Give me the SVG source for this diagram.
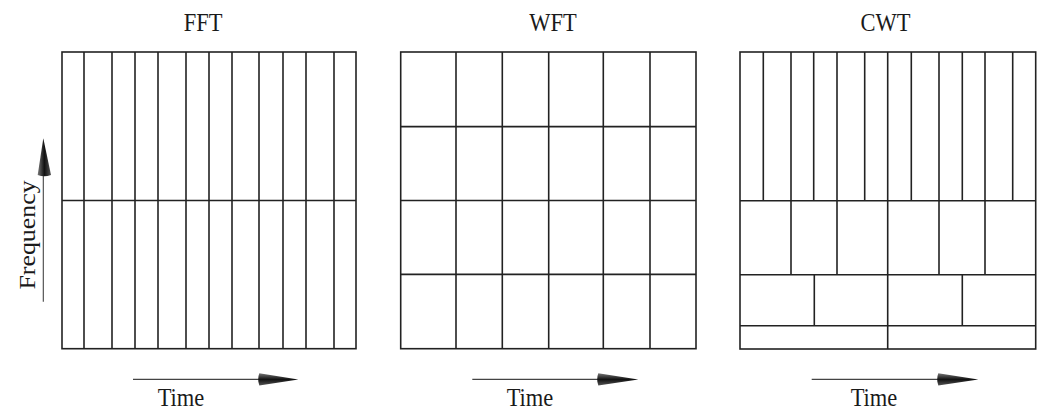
<svg xmlns="http://www.w3.org/2000/svg" width="1041" height="409" viewBox="0 0 1041 409">
  <style>
    .grid { fill: none; stroke: #222; stroke-width: 1.6; }
    .shaft { stroke: #444; stroke-width: 1.1; fill: none; }
    .label { font-family: "Liberation Serif", "Times New Roman", serif; font-size: 22.5px; fill: #1a1a1a; text-anchor: middle; }
  </style>
  <defs>
    <linearGradient id="headH" x1="0" y1="0" x2="0" y2="1">
      <stop offset="0" stop-color="#777"/>
      <stop offset="0.5" stop-color="#111"/>
      <stop offset="1" stop-color="#555"/>
    </linearGradient>
    <linearGradient id="headV" x1="0" y1="0" x2="1" y2="0">
      <stop offset="0" stop-color="#777"/>
      <stop offset="0.5" stop-color="#111"/>
      <stop offset="1" stop-color="#555"/>
    </linearGradient>
  </defs>

  <rect width="1041" height="409" fill="#fff"/>

  <!-- FFT: constant narrow time bins -->
  <g id="fft">
    <text class="label" transform="translate(203,30.7) scale(1,1.15)">FFT</text>
    <rect class="grid" x="62" y="52" width="294" height="296.7"/>
    <path class="grid" d="M84 52V348.7M112 52V348.7M135 52V348.7M158 52V348.7M186 52V348.7M209 52V348.7M232 52V348.7M259 52V348.7M283 52V348.7M306 52V348.7M334 52V348.7M62 200.5H356"/>
  </g>

  <!-- WFT: fixed-size tiles -->
  <g id="wft">
    <text class="label" transform="translate(553,30.7) scale(1,1.15)">WFT</text>
    <rect class="grid" x="400.7" y="52" width="295.3" height="296.7"/>
    <path class="grid" d="M456 52V348.7M502.3 52V348.7M548.7 52V348.7M603.3 52V348.7M650 52V348.7M400.7 126.6H696M400.7 200.5H696M400.7 274.4H696"/>
  </g>

  <!-- CWT: dyadic tiling -->
  <g id="cwt">
    <text class="label" transform="translate(885.5,30.7) scale(1,1.15)">CWT</text>
    <rect class="grid" x="740" y="52" width="295.7" height="297"/>
    <path class="grid" d="M763.3 52V200.7M791 52V274.7M813.7 52V200.7M837 52V274.7M864.7 52V200.7M887.7 52V349M911.3 52V200.7M939 52V274.7M962.3 52V200.7M985 52V274.7M1012.7 52V200.7M814.3 274.7V325.7M962.3 274.7V325.7M740 200.7H1035.7M740 274.7H1035.7M740 325.7H1035.7"/>
  </g>

  <!-- axis arrows -->
  <g id="axes">
    <line class="shaft" x1="43.3" y1="301.7" x2="43.3" y2="172"/>
    <path d="M37.7 175 Q44.3 177.5 51 175 L43.3 138.3 Z" fill="url(#headV)"/>
    <text class="label" transform="translate(35,235) rotate(-90) scale(1.15,1)" fill="#2b2416">Frequency</text>

    <line class="shaft" x1="133" y1="379.4" x2="262" y2="379.4"/>
    <path d="M259.3 373.3 Q257 379.4 259.3 385.5 L298.3 379.4 Z" fill="url(#headH)"/>
    <text class="label" transform="translate(181,405.7) scale(1,1.15)">Time</text>

    <line class="shaft" x1="472.3" y1="379.4" x2="601" y2="379.4"/>
    <path d="M598.3 373.3 Q596 379.4 598.3 385.5 L638.3 379.4 Z" fill="url(#headH)"/>
    <text class="label" transform="translate(530,405.7) scale(1,1.15)">Time</text>

    <line class="shaft" x1="811.7" y1="379.4" x2="941" y2="379.4"/>
    <path d="M938.3 373.3 Q936 379.4 938.3 385.5 L978.3 379.4 Z" fill="url(#headH)"/>
    <text class="label" transform="translate(874,405.7) scale(1,1.15)">Time</text>
  </g>
</svg>
